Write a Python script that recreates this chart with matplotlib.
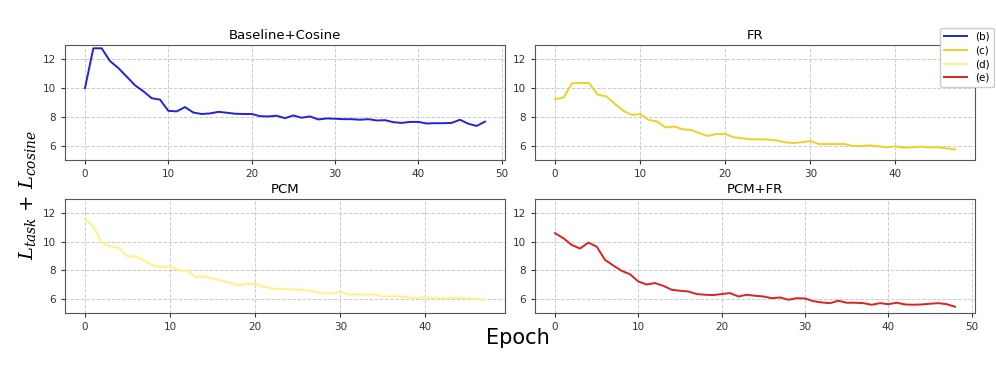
import matplotlib
matplotlib.use("Agg")
import matplotlib.pyplot as plt
import numpy as np

baseline_cosine = [10.0, 12.77, 12.77, 11.88, 11.4, 10.8, 10.2, 9.78, 9.3, 9.2,
                   8.42, 8.38, 8.68, 8.3, 8.2, 8.24, 8.35, 8.29, 8.22, 8.2,
                   8.2, 8.05, 8.03, 8.08, 7.91, 8.1, 7.94, 8.03, 7.82, 7.89,
                   7.87, 7.84, 7.84, 7.8, 7.84, 7.75, 7.77, 7.63, 7.58, 7.65,
                   7.65, 7.54, 7.56, 7.56, 7.58, 7.8, 7.52, 7.37, 7.67]
fr = [9.24, 9.34, 10.34, 10.36, 10.36, 9.55, 9.43, 8.92, 8.43, 8.14,
      8.19, 7.79, 7.68, 7.26, 7.33, 7.14, 7.09, 6.86, 6.67, 6.81,
      6.81, 6.58, 6.51, 6.44, 6.44, 6.42, 6.37, 6.23, 6.18, 6.23,
      6.32, 6.11, 6.11, 6.11, 6.11, 5.97, 5.97, 6.02, 5.95, 5.88,
      5.95, 5.86, 5.88, 5.93, 5.88, 5.88, 5.81, 5.74]
pcm = [11.63, 11.04, 9.92, 9.68, 9.56, 8.98, 8.96, 8.67, 8.32, 8.2,
       8.28, 7.99, 7.97, 7.53, 7.57, 7.41, 7.29, 7.11, 6.94, 7.04,
       7.04, 6.83, 6.73, 6.68, 6.66, 6.64, 6.59, 6.5, 6.38, 6.38,
       6.48, 6.29, 6.31, 6.29, 6.29, 6.15, 6.17, 6.17, 6.1, 6.05,
       6.12, 6.03, 6.03, 6.08, 6.05, 6.03, 6.0, 5.93]
pcm_fr = [10.6, 10.25, 9.78, 9.52, 9.94, 9.66, 8.73, 8.33, 7.96, 7.72,
          7.21, 7.0, 7.1, 6.91, 6.63, 6.56, 6.51, 6.33, 6.28, 6.26,
          6.33, 6.4, 6.16, 6.28, 6.21, 6.16, 6.04, 6.09, 5.93, 6.04,
          6.02, 5.83, 5.74, 5.69, 5.86, 5.72, 5.72, 5.69, 5.58, 5.69,
          5.62, 5.72, 5.6, 5.58, 5.6, 5.65, 5.69, 5.62, 5.44]

titles = ["Baseline+Cosine", "FR", "PCM", "PCM+FR"]
labels = ["(b)", "(c)", "(d)", "(e)"]
colors = ["#2222dd", "#f0d028", "#fff380", "#dd2222"]
series = [baseline_cosine, fr, pcm, pcm_fr]
yticks = [6, 8, 10, 12]

fig = plt.figure(figsize=(9.96, 3.75), dpi=100)
W, H = 996, 375
boxes = [(65, 45, 505, 160), (535, 45, 975, 160),
         (65, 199, 505, 313), (535, 199, 975, 313)]
for (x0, y0, x1, y1), t, lab, c, s in zip(boxes, titles, labels, colors, series):
    ax = fig.add_axes([x0 / W, 1 - y1 / H, (x1 - x0) / W, (y1 - y0) / H])
    ep = np.arange(len(s))
    ax.plot(ep, s, color=c, lw=1.4, label=lab)
    ax.set_ylim(5, 13)
    ax.set_yticks(yticks)
    ax.set_title(t, fontsize=9.5, pad=4)
    ax.grid(True, linestyle="--", color="#cccccc", linewidth=0.7)
    ax.tick_params(labelsize=7.5, colors="#333333", length=3)
    for sp in ax.spines.values():
        sp.set_color("#555555")

fig.legend(loc="upper right", bbox_to_anchor=(1.003, 0.94), fontsize=7.5,
           handlelength=2.2, borderpad=0.4, labelspacing=0.35, framealpha=1,
           edgecolor="#cccccc")
fig.text(518 / W, 1 - 338 / H, "Epoch", ha="center", va="center", fontsize=15)
fig.text(28 / W, 1 - 195 / H, r"$L_{task}$ + $L_{cosine}$", ha="center", va="center",
         rotation=90, fontsize=14, math_fontfamily="dejavuserif")
fig.savefig("out.png", dpi=100)
